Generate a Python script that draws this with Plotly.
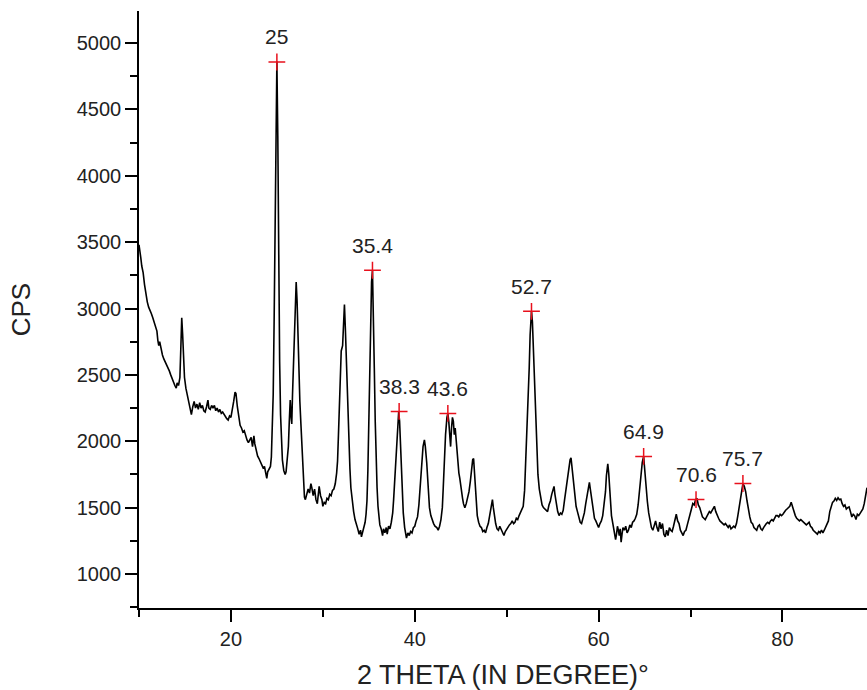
import plotly.graph_objects as go

two_theta = [
    10.0, 10.1, 10.2, 10.3, 10.45, 10.6, 10.75, 10.9, 11.05, 11.2, 11.35, 11.5, 11.65, 11.8, 11.95,
    12.05, 12.15, 12.25, 12.4, 12.55, 12.7, 12.85, 13.0, 13.15, 13.3, 13.45, 13.6, 13.75, 13.9, 14.05,
    14.15, 14.3, 14.45, 14.55, 14.65, 14.75, 14.85, 14.95, 15.1, 15.25, 15.4, 15.55, 15.7, 15.85, 16.0,
    16.15, 16.3, 16.45, 16.6, 16.75, 16.9, 17.05, 17.2, 17.35, 17.5, 17.6, 17.75, 17.9, 18.05, 18.2,
    18.35, 18.5, 18.65, 18.8, 18.95, 19.1, 19.25, 19.4, 19.55, 19.7, 19.85, 20.0, 20.15, 20.3, 20.45,
    20.55, 20.7, 20.85, 21.0, 21.15, 21.3, 21.45, 21.6, 21.75, 21.9, 22.05, 22.2, 22.35, 22.5, 22.6,
    22.75, 22.9, 23.05, 23.2, 23.35, 23.5, 23.65, 23.8, 23.9, 24.0, 24.15, 24.3, 24.4, 24.5, 24.6,
    24.7, 24.8, 24.9, 25.0, 25.1, 25.2, 25.3, 25.4, 25.5, 25.6, 25.75, 25.9, 26.0, 26.1, 26.25,
    26.35, 26.45, 26.55, 26.62, 26.7, 26.8, 26.9, 27.0, 27.1, 27.2, 27.3, 27.4, 27.5, 27.6, 27.7,
    27.8, 27.9, 28.0, 28.1, 28.25, 28.4, 28.55, 28.7, 28.8, 28.95, 29.1, 29.25, 29.4, 29.5, 29.6,
    29.75, 29.9, 30.0, 30.15, 30.3, 30.45, 30.6, 30.75, 30.9, 31.05, 31.2, 31.35, 31.5, 31.6, 31.7,
    31.8, 31.9, 32.0, 32.15, 32.25, 32.35, 32.45, 32.55, 32.65, 32.75, 32.85, 32.95, 33.05, 33.2, 33.35,
    33.5, 33.65, 33.8, 33.95, 34.1, 34.2, 34.35, 34.5, 34.6, 34.7, 34.8, 34.9, 35.0, 35.1, 35.2,
    35.3, 35.4, 35.5, 35.6, 35.7, 35.8, 35.9, 36.0, 36.1, 36.2, 36.35, 36.5, 36.6, 36.75, 36.9,
    37.0, 37.15, 37.3, 37.45, 37.6, 37.7, 37.8, 37.9, 38.0, 38.1, 38.25, 38.35, 38.45, 38.55, 38.65,
    38.75, 38.9, 39.0, 39.1, 39.25, 39.4, 39.55, 39.7, 39.85, 40.0, 40.15, 40.3, 40.45, 40.6, 40.75,
    40.9, 41.05, 41.15, 41.3, 41.45, 41.6, 41.75, 41.9, 42.05, 42.2, 42.4, 42.55, 42.7, 42.85, 43.0,
    43.1, 43.2, 43.35, 43.5, 43.6, 43.7, 43.8, 43.9, 44.0, 44.1, 44.2, 44.3, 44.4, 44.5, 44.6,
    44.7, 44.8, 44.9, 45.0, 45.1, 45.2, 45.3, 45.45, 45.6, 45.75, 45.9, 46.05, 46.15, 46.3, 46.4,
    46.5, 46.6, 46.7, 46.8, 46.95, 47.1, 47.25, 47.4, 47.55, 47.7, 47.85, 48.0, 48.15, 48.3, 48.45,
    48.55, 48.65, 48.8, 48.95, 49.1, 49.25, 49.4, 49.55, 49.7, 49.85, 50.0, 50.15, 50.3, 50.45, 50.6,
    50.75, 50.9, 51.05, 51.2, 51.35, 51.5, 51.65, 51.8, 51.95, 52.05, 52.15, 52.3, 52.45, 52.55, 52.7,
    52.8, 52.9, 53.0, 53.1, 53.2, 53.3, 53.4, 53.55, 53.7, 53.85, 54.0, 54.15, 54.3, 54.45, 54.6,
    54.75, 54.9, 55.05, 55.15, 55.25, 55.4, 55.55, 55.7, 55.85, 56.0, 56.15, 56.3, 56.45, 56.6, 56.75,
    56.9, 57.0, 57.1, 57.25, 57.4, 57.55, 57.7, 57.85, 58.0, 58.15, 58.3, 58.45, 58.6, 58.75, 58.9,
    59.0, 59.1, 59.25, 59.4, 59.55, 59.7, 59.85, 60.0, 60.15, 60.3, 60.45, 60.6, 60.75, 60.85, 61.0,
    61.1, 61.2, 61.3, 61.4, 61.55, 61.7, 61.85, 61.95, 62.05, 62.15, 62.25, 62.35, 62.45, 62.55, 62.65,
    62.8, 62.95, 63.1, 63.25, 63.4, 63.55, 63.7, 63.85, 64.0, 64.15, 64.3, 64.45, 64.6, 64.75, 64.9,
    65.0, 65.15, 65.3, 65.45, 65.6, 65.75, 65.9, 66.05, 66.2, 66.35, 66.5, 66.65, 66.8, 66.95, 67.1,
    67.25, 67.4, 67.55, 67.7, 67.85, 68.0, 68.15, 68.3, 68.45, 68.6, 68.75, 68.9, 69.05, 69.2, 69.35,
    69.5, 69.65, 69.8, 69.95, 70.1, 70.25, 70.4, 70.55, 70.7, 70.85, 71.0, 71.15, 71.3, 71.45, 71.6,
    71.75, 71.9, 72.05, 72.2, 72.35, 72.5, 72.6, 72.75, 72.9, 73.05, 73.2, 73.35, 73.5, 73.65, 73.8,
    73.95, 74.1, 74.25, 74.4, 74.55, 74.7, 74.85, 75.0, 75.15, 75.3, 75.45, 75.6, 75.7, 75.85, 76.0,
    76.15, 76.3, 76.45, 76.6, 76.75, 76.9, 77.05, 77.2, 77.35, 77.5, 77.65, 77.8, 77.95, 78.1, 78.25,
    78.4, 78.55, 78.7, 78.85, 79.0, 79.15, 79.3, 79.45, 79.6, 79.75, 79.9, 80.05, 80.2, 80.35, 80.5,
    80.65, 80.8, 80.95, 81.1, 81.25, 81.4, 81.55, 81.7, 81.85, 82.0, 82.15, 82.3, 82.45, 82.6, 82.75,
    82.9, 83.05, 83.2, 83.35, 83.5, 83.65, 83.8, 83.95, 84.1, 84.25, 84.4, 84.55, 84.7, 84.85, 85.0,
    85.15, 85.3, 85.45, 85.6, 85.75, 85.9, 86.05, 86.2, 86.35, 86.5, 86.65, 86.8, 86.95, 87.1, 87.25,
    87.4, 87.55, 87.7, 87.85, 88.0, 88.15, 88.3, 88.45, 88.6, 88.75, 88.9, 89.05, 89.2,
]

cps = [
    3480, 3440, 3380, 3320, 3270, 3180, 3110, 3050, 3010, 2990, 2960, 2930, 2900, 2870, 2830,
    2760, 2720, 2750, 2690, 2650, 2620, 2600, 2580, 2560, 2530, 2500, 2470, 2450, 2420, 2400,
    2440, 2420, 2480, 2700, 2930, 2800, 2600, 2480, 2400, 2350, 2300, 2270, 2200, 2260, 2300,
    2250, 2280, 2240, 2290, 2250, 2270, 2230, 2220, 2260, 2310, 2250, 2240, 2270, 2250, 2270,
    2230, 2250, 2220, 2240, 2210, 2220, 2200, 2190, 2170, 2160, 2190, 2180, 2230, 2300, 2370,
    2360, 2260, 2170, 2120, 2100, 2070, 2080, 2040, 2010, 1990, 2010, 2030, 1960, 2040, 1980,
    1920, 1890, 1870, 1850, 1830, 1800, 1810, 1760, 1720, 1770, 1790, 1810, 1880, 2050, 2350,
    2900, 3700, 4400, 4860, 4300, 3200, 2600, 2200, 2000, 1860, 1780, 1750, 1770, 1850, 1960,
    2150, 2310, 2180, 2130, 2350, 2600, 2850, 3080, 3200, 3050, 2750, 2500, 2300, 2150, 1980,
    1800, 1680, 1580, 1560, 1600, 1640, 1610, 1680, 1650, 1590, 1640, 1560, 1530, 1580, 1660,
    1590, 1560, 1510, 1540, 1530, 1570, 1560, 1600, 1590, 1630, 1640, 1680, 1760, 1850, 2050,
    2300, 2500, 2680, 2720, 2900, 3030, 2850, 2600, 2400, 2150, 1950, 1790, 1650, 1530, 1470,
    1410, 1380, 1340, 1300, 1330, 1280, 1320, 1350, 1390, 1450, 1550, 1780, 2150, 2550, 2950,
    3200, 3285, 3000, 2550, 2150, 1850, 1650, 1510, 1420, 1370, 1340, 1290, 1340, 1310, 1350,
    1300, 1360, 1340, 1390, 1460, 1560, 1680, 1820, 1980, 2120, 2220, 2150, 1950, 1780, 1600,
    1460, 1350, 1300, 1270, 1310, 1290, 1320, 1310, 1350, 1360, 1400, 1430, 1520, 1650, 1830,
    1960, 2010, 1960, 1840, 1650, 1500, 1440, 1400, 1380, 1360, 1350, 1330, 1360, 1410, 1500,
    1650, 1850, 2050, 2180, 2210, 2150, 2050, 1960, 2100, 2180, 2150, 2050, 2100, 2000, 1880,
    1800, 1760, 1720, 1660, 1620, 1570, 1530, 1500, 1530, 1570, 1620, 1700, 1760, 1860, 1870,
    1750, 1640, 1520, 1440, 1390, 1360, 1350, 1320, 1330, 1310, 1350, 1380, 1440, 1520, 1560,
    1500, 1440, 1380, 1340, 1330, 1360, 1340, 1310, 1290, 1320, 1340, 1350, 1370, 1380, 1400,
    1380, 1390, 1420, 1410, 1440, 1460, 1480, 1510, 1630, 1800, 2000, 2300, 2550, 2800, 2980,
    2900, 2700, 2500, 2300, 2150, 1900, 1750, 1640, 1570, 1520, 1500, 1490, 1480, 1470, 1520,
    1550, 1600, 1640, 1660, 1600, 1520, 1470, 1440, 1460, 1450, 1480, 1560, 1640, 1720, 1800,
    1860, 1875, 1800, 1680, 1600, 1510, 1470, 1420, 1390, 1380, 1420, 1460, 1530, 1600, 1660,
    1690, 1640, 1560, 1480, 1420, 1400, 1380, 1350, 1380, 1400, 1440, 1530, 1620, 1740, 1830,
    1760, 1650, 1520, 1440, 1380, 1320, 1260, 1300, 1360, 1330, 1290, 1340, 1240, 1300, 1350,
    1330, 1360, 1310, 1330, 1370, 1350, 1390, 1400, 1420, 1450, 1520, 1620, 1740, 1840, 1885,
    1780, 1660, 1550, 1460, 1400, 1350, 1330, 1370, 1400, 1350, 1320, 1390, 1340, 1380, 1300,
    1280, 1330, 1290, 1350, 1330, 1320, 1360, 1420, 1450, 1400, 1380, 1330, 1310, 1290, 1320,
    1330, 1370, 1420, 1450, 1490, 1530, 1520, 1560, 1570, 1520, 1500, 1460, 1430, 1420, 1410,
    1430, 1450, 1470, 1460, 1480, 1500, 1510, 1470, 1440, 1420, 1400, 1390, 1380, 1370, 1380,
    1360, 1350, 1370, 1340, 1350, 1360, 1350, 1380, 1440, 1510, 1600, 1660, 1680, 1660, 1620,
    1550, 1470, 1430, 1390, 1380, 1350, 1340, 1330, 1360, 1370, 1340, 1330, 1350, 1370, 1380,
    1390, 1380, 1400, 1410, 1400, 1420, 1440, 1440, 1430, 1450, 1440, 1450, 1470, 1480, 1490,
    1500, 1510, 1540, 1500, 1470, 1440, 1420, 1410, 1400, 1410, 1400, 1390, 1380, 1370, 1380,
    1390, 1360, 1350, 1330, 1320, 1310, 1300, 1320, 1310, 1330, 1310, 1330, 1350, 1370, 1400,
    1470, 1510, 1540, 1550, 1570, 1555, 1575, 1560, 1565, 1530, 1510, 1520, 1490, 1500, 1505,
    1470, 1430, 1450, 1440, 1410, 1450, 1440, 1460, 1470, 1490, 1530, 1590, 1650,
]

peak_x = [25.0, 35.4, 38.3, 43.6, 52.7, 64.9, 70.6, 75.7]
peak_y = [4857, 3288, 2225, 2210, 2979, 1886, 1561, 1682]
peak_labels = ["25", "35.4", "38.3", "43.6", "52.7", "64.9", "70.6", "75.7"]

FONT = "Liberation Sans, Arial, sans-serif"
TXT = "#222222"

fig = go.Figure()
fig.add_trace(go.Scatter(
    x=two_theta, y=cps, mode="lines",
    line=dict(color="black", width=1.6),
    showlegend=False, hoverinfo="skip",
))
fig.add_trace(go.Scatter(
    x=peak_x, y=peak_y, mode="markers",
    marker=dict(symbol="cross-thin", size=12, line=dict(color="#e8101c", width=1.5)),
    showlegend=False,
))
for px_, py_, lab in zip(peak_x, peak_y, peak_labels):
    fig.add_annotation(x=px_, y=py_, text=lab, showarrow=False, yshift=25,
                       font=dict(family=FONT, size=21, color=TXT))

axis_common = dict(
    showline=True, linecolor="black", linewidth=1.5, mirror=False,
    showgrid=False, zeroline=False, ticks="outside", ticklen=12, tickwidth=1.5,
    tickcolor="black", tickfont=dict(family=FONT, size=20, color=TXT),
    automargin=False,
)
fig.update_layout(
    width=867, height=690,
    margin=dict(l=139, r=0, t=11, b=82),
    paper_bgcolor="white", plot_bgcolor="white",
    xaxis=dict(
        range=[10, 89.2], tick0=0, dtick=20,
        minor=dict(tick0=0, dtick=10, ticks="outside", ticklen=7, tickwidth=1.5, tickcolor="black"),
        title=dict(text="2 THETA (IN DEGREE)°", font=dict(family=FONT, size=27, color=TXT), standoff=19),
        **axis_common,
    ),
    yaxis=dict(
        range=[744, 5241], tick0=0, dtick=500,
        minor=dict(tick0=0, dtick=250, ticks="outside", ticklen=7, tickwidth=1.5, tickcolor="black"),
        title=dict(text="CPS", font=dict(family=FONT, size=26, color=TXT), standoff=39),
        **axis_common,
    ),
)
fig.write_html(
    "out.html",
    config={"displayModeBar": False},
    post_script="document.body.style.margin='0';document.body.style.overflow='hidden';",
)
